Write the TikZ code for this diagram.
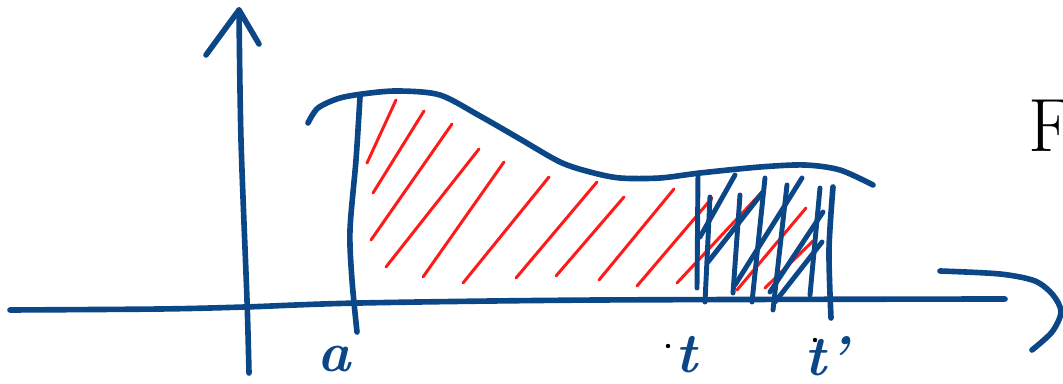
\documentclass[tikz,border=0pt]{standalone}
\usepackage{fontspec}
\usepackage{tikz}
\usetikzlibrary{arrows.meta,positioning}
\definecolor{inkblue}{HTML}{0B4687}
\definecolor{inkred}{HTML}{FF1A1A}

\begin{document}
\begin{tikzpicture}[
  x=0.02cm,y=-0.02cm,
  ink/.style={draw=inkblue,line width=3.2pt,line cap=round,line join=round},
  redhatch/.style={draw=inkred,line width=1.7pt,line cap=round},
  bluehatch/.style={ink,line width=2.8pt},
  lbl/.style={text=inkblue,inner sep=0pt,font=\fontsize{32}{34}\selectfont\bfseries\itshape}
]
\useasboundingbox (0,0) rectangle (1063,384);
% axes
\draw[ink] plot[smooth] coordinates {(10,310) (160,309) (245,307) (360,303) (600,300) (1005,299)};
\draw[ink] plot[smooth] coordinates {(249,373) (247,300) (241,140) (239,10)};
\draw[ink] (206,55) -- (239,10) -- (259,44);
\draw[ink] plot[smooth] coordinates {(940,271) (1000,274) (1035,281) (1053,295) (1061,312) (1052,332) (1032,350)};
% red hatching a..t
\foreach \xa/\ya/\xb/\yb in {396/100/367/163, 424/111/373/193, 452/124/371/240, 479/149/386/267,
  504/162/423/277, 549/177/463/283, 597/182/516/278, 624/197/556/276, 674/189/599/280,
  712/198/637/286, 762/192/677/283, 806/208/737/290, 813/241/765/288}
  \draw[redhatch] (\xa,\ya) -- (\xb,\yb);
% graph
\draw[ink] plot[smooth] coordinates {(308,123) (318,108) (340,98) (370,93) (400,91) (440,95) (480,116)
  (520,139) (560,162) (590,172) (620,178) (660,178) (700,173) (760,167) (805,165) (840,170) (873,185)};
\draw[ink] plot[smooth] coordinates {(360,97) (356,160) (350,230) (352,280) (357,332)};
% blue hatching t..t'
\foreach \xa/\ya/\xb/\yb in {698/173/697/288, 710/197/705/302, 740/195/733/293, 765/178/752/302,
  787/185/773/310, 820/188/810/295, 735/175/700/237, 763/192/708/262, 802/178/735/285,
  823/212/770/292, 822/242/775/302}
  \draw[bluehatch] (\xa,\ya) -- (\xb,\yb);
\draw[ink] plot[smooth] coordinates {(833,187) (829,250) (831,318)};
% labels
\node[lbl] (la) at (334,359) {a};
\node[lbl] (lt) at (686,355) {t};
\node[lbl] (ltp) at (826,356) {t\kern1pt'};
\fill (668,346) circle (2.2);
\fill (815,340) circle (2.2);
\node[anchor=base west,inner sep=0pt,font=\fontsize{43}{45}\selectfont] (fname) at (1028,152) {F};
\end{tikzpicture}
\end{document}
